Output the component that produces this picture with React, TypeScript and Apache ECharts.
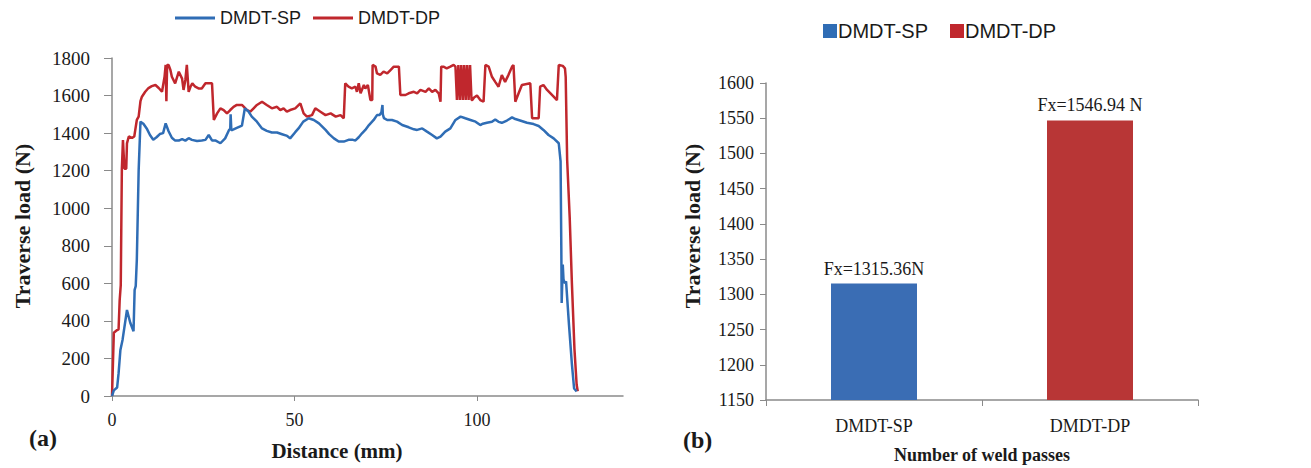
import React, { useEffect, useRef } from 'react';
import * as echarts from 'echarts';

const seriesNames = ['DMDT-SP', 'DMDT-DP'];

const spDistance = [0, 0.5, 1.4, 1.8, 2.3, 2.9, 4.1, 5.0, 5.9, 6.2, 6.5, 6.8, 7.3, 7.8, 8.6, 9.5, 10.4, 11.3, 12.2, 13.1, 14.0, 14.7, 15.5, 16.4, 17.3, 18.3, 19.2, 20.1, 21.0, 21.9, 23.3, 24.6, 25.6, 26.5, 27.4, 28.3, 29.7, 31.0, 32.1, 32.4, 32.5, 32.7, 33.3, 34.2, 35.6, 36.4, 37.4, 38.3, 39.7, 41.1, 42.4, 43.8, 45.2, 46.6, 48.0, 48.8, 50.2, 51.1, 52.4, 53.9, 55.3, 56.7, 57.6, 58.5, 59.5, 60.8, 62.1, 63.5, 64.8, 66.0, 66.7, 67.6, 68.5, 69.4, 70.4, 71.7, 72.6, 73.3, 73.8, 74.1, 74.2, 74.5, 75.4, 76.7, 78.1, 79.5, 81.3, 82.7, 83.6, 85.0, 86.3, 87.7, 89.0, 90.0, 91.3, 92.7, 94.1, 95.5, 96.8, 98.2, 99.6, 100.9, 101.6, 102.7, 104.1, 105.0, 105.9, 106.8, 108.2, 109.6, 110.5, 111.8, 113.7, 115.5, 116.9, 118.2, 119.6, 121.0, 122.4, 122.9, 123.1, 123.2, 123.5, 123.7, 124.1, 124.4, 125.2, 126.0, 126.6, 127.3];
const spLoad = [0, 30, 45, 120, 245, 300, 458, 390, 345, 565, 585, 725, 1200, 1461, 1450, 1425, 1390, 1365, 1378, 1395, 1400, 1452, 1410, 1375, 1360, 1360, 1368, 1360, 1373, 1364, 1358, 1361, 1364, 1390, 1361, 1361, 1346, 1372, 1418, 1420, 1500, 1415, 1420, 1428, 1440, 1532, 1515, 1488, 1461, 1425, 1412, 1403, 1403, 1394, 1385, 1372, 1405, 1425, 1461, 1479, 1470, 1452, 1435, 1417, 1395, 1372, 1355, 1355, 1364, 1364, 1361, 1378, 1399, 1417, 1443, 1470, 1496, 1496, 1510, 1550, 1500, 1480, 1470, 1470, 1461, 1443, 1431, 1420, 1417, 1425, 1408, 1390, 1372, 1381, 1408, 1425, 1470, 1488, 1479, 1470, 1461, 1443, 1450, 1455, 1460, 1473, 1460, 1455, 1467, 1484, 1475, 1467, 1455, 1448, 1438, 1417, 1390, 1372, 1346, 1250, 790, 495, 700, 620, 600, 610, 380, 170, 40, 25];

const dpDistance = [0, 0.5, 1.4, 1.8, 2.1, 2.4, 2.7, 3.0, 3.4, 3.9, 4.1, 4.6, 5.5, 6.1, 6.4, 6.8, 7.3, 7.8, 8.2, 9.1, 10.0, 10.9, 11.9, 12.8, 13.7, 14.4, 14.7, 14.9, 15.1, 15.5, 16.0, 16.4, 17.3, 18.3, 19.2, 19.6, 20.1, 20.5, 21.0, 21.5, 22.0, 22.8, 23.7, 24.6, 25.6, 26.5, 27.4, 27.9, 28.8, 29.7, 30.6, 31.5, 32.4, 33.3, 34.2, 35.6, 37.0, 37.9, 38.8, 39.7, 41.1, 42.4, 43.8, 45.2, 46.1, 47.0, 47.9, 48.8, 50.2, 51.6, 52.5, 53.4, 54.8, 55.7, 57.1, 58.5, 59.9, 61.3, 62.6, 63.5, 63.9, 64.8, 65.7, 66.7, 67.1, 67.6, 68.1, 69.0, 69.4, 70.1, 70.8, 71.3, 71.4, 72.2, 72.6, 73.5, 74.4, 75.4, 76.3, 77.2, 78.1, 78.6, 79.0, 80.4, 81.3, 82.7, 83.6, 84.5, 85.9, 86.8, 87.7, 88.6, 89.5, 90.0, 90.2, 90.8, 91.7, 92.7, 93.6, 94.1, 94.5, 94.9, 95.3, 95.7, 96.1, 96.5, 96.9, 97.3, 97.7, 98.1, 98.5, 98.7, 99.2, 100.0, 100.9, 101.8, 102.3, 103.2, 104.1, 105.0, 105.9, 106.8, 107.7, 108.6, 109.6, 110.0, 110.5, 111.4, 112.3, 114.6, 115.1, 116.9, 117.3, 118.2, 119.2, 121.0, 121.9, 122.4, 123.5, 124.1, 124.3, 124.7, 125.4, 126.0, 126.7, 127.3, 127.6];
const dpLoad = [0, 337, 351, 355, 510, 590, 1210, 1363, 1210, 1210, 1345, 1382, 1375, 1382, 1420, 1470, 1488, 1570, 1594, 1620, 1640, 1650, 1656, 1640, 1620, 1700, 1763, 1570, 1763, 1763, 1736, 1700, 1665, 1727, 1690, 1630, 1683, 1763, 1620, 1647, 1665, 1647, 1638, 1638, 1665, 1665, 1665, 1470, 1505, 1532, 1523, 1505, 1523, 1540, 1550, 1550, 1523, 1514, 1532, 1550, 1567, 1550, 1532, 1540, 1523, 1532, 1514, 1523, 1532, 1558, 1505, 1488, 1496, 1532, 1514, 1496, 1505, 1488, 1496, 1479, 1665, 1647, 1638, 1647, 1620, 1665, 1612, 1656, 1638, 1656, 1576, 1576, 1763, 1754, 1718, 1710, 1727, 1718, 1736, 1754, 1754, 1754, 1603, 1603, 1612, 1620, 1612, 1630, 1620, 1638, 1620, 1630, 1612, 1567, 1754, 1754, 1745, 1754, 1763, 1754, 1576, 1763, 1576, 1763, 1576, 1763, 1576, 1763, 1576, 1763, 1576, 1576, 1590, 1600, 1576, 1567, 1763, 1754, 1700, 1673, 1647, 1709, 1673, 1709, 1754, 1763, 1567, 1612, 1656, 1665, 1479, 1479, 1647, 1656, 1630, 1594, 1576, 1763, 1758, 1745, 1700, 1257, 950, 600, 250, 60, 25];

const distanceTicks = [0, 50, 100];
const barCategories = ['DMDT-SP', 'DMDT-DP'];
const barValues = [1315.36, 1546.94];
const barLabels = ['Fx=1315.36N', 'Fx=1546.94 N'];

const BLUE = '#2f6db5';
const RED = '#c0272d';
const BAR_BLUE = '#3a6db4';
const BAR_RED = '#b83636';
const AXIS = '#8a8a8a';
const TEXT = '#1a1a1a';
const SERIF = '"Liberation Serif", "Times New Roman", serif';
const SANS = '"Liberation Sans", Arial, sans-serif';

export default function App() {
  const ref = useRef<HTMLDivElement>(null);
  useEffect(() => {
    if (!ref.current) return;
    const chart = echarts.init(ref.current, undefined, { renderer: 'svg' });
    const plain = (v: number) => String(v);
    const labelStyle = { fontFamily: SERIF, fontSize: 18, color: TEXT };
    const title = (text: string, x: number, y: number, size: number, rotate: boolean) => ({
      type: 'text',
      x,
      y,
      rotation: rotate ? Math.PI / 2 : 0,
      style: {
        text,
        fontFamily: SERIF,
        fontSize: size,
        fontWeight: 'bold',
        fill: TEXT,
        align: 'center',
        verticalAlign: 'middle',
      },
    });
    chart.setOption({
      animation: false,
      backgroundColor: '#ffffff',
      legend: [
        {
          data: seriesNames,
          left: 170,
          top: 4,
          icon: 'rect',
          itemWidth: 40,
          itemHeight: 3,
          itemGap: 12,
          textStyle: { fontFamily: SANS, fontSize: 18, color: TEXT },
        },
        {
          data: seriesNames,
          left: 818,
          top: 16,
          icon: 'rect',
          itemWidth: 14,
          itemHeight: 14,
          itemGap: 22,
          textStyle: { fontFamily: SANS, fontSize: 20, color: TEXT, padding: [0, 0, 0, -4] },
        },
      ],
      grid: [
        { left: 112, top: 58, width: 511, height: 338 },
        { left: 766, top: 83, width: 432, height: 317 },
      ],
      xAxis: [
        {
          type: 'value',
          gridIndex: 0,
          min: 0,
          max: 140,
          interval: 50,
          axisLine: { show: true, lineStyle: { color: AXIS, width: 1.5 } },
          axisTick: { show: true, length: 5, customValues: distanceTicks, lineStyle: { color: AXIS } },
          axisLabel: { ...labelStyle, margin: 15, customValues: distanceTicks, formatter: plain },
          splitLine: { show: false },
        },
        {
          type: 'category',
          gridIndex: 1,
          data: barCategories,
          axisLine: { show: true, lineStyle: { color: AXIS, width: 1.5 } },
          axisTick: { show: true, length: 6, lineStyle: { color: AXIS } },
          axisLabel: { ...labelStyle, margin: 17 },
        },
      ],
      yAxis: [
        {
          type: 'value',
          gridIndex: 0,
          min: 0,
          max: 1800,
          interval: 200,
          axisLine: { show: true, lineStyle: { color: AXIS, width: 1.5 } },
          axisTick: { show: true, length: 8, lineStyle: { color: AXIS } },
          axisLabel: { ...labelStyle, fontSize: 19, margin: 22, formatter: plain },
          splitLine: { show: false },
        },
        {
          type: 'value',
          gridIndex: 1,
          min: 1150,
          max: 1600,
          interval: 50,
          axisLine: { show: true, lineStyle: { color: AXIS, width: 1.5 } },
          axisTick: { show: true, length: 6, lineStyle: { color: AXIS } },
          axisLabel: { ...labelStyle, margin: 12, formatter: plain },
          splitLine: { show: false },
        },
      ],
      series: [
        {
          name: seriesNames[0],
          type: 'line',
          xAxisIndex: 0,
          yAxisIndex: 0,
          data: spDistance.map((d, i) => [d, spLoad[i]]),
          showSymbol: false,
          symbol: 'none',
          color: BLUE,
          lineStyle: { color: BLUE, width: 2.5 },
          z: 3,
        },
        {
          name: seriesNames[1],
          type: 'line',
          xAxisIndex: 0,
          yAxisIndex: 0,
          data: dpDistance.map((d, i) => [d, dpLoad[i]]),
          showSymbol: false,
          symbol: 'none',
          color: RED,
          lineStyle: { color: RED, width: 2.5 },
          z: 2,
        },
        {
          name: seriesNames[0],
          type: 'bar',
          xAxisIndex: 1,
          yAxisIndex: 1,
          data: [barValues[0], '-'],
          barWidth: 86,
          barGap: '-100%',
          itemStyle: { color: BAR_BLUE },
          label: {
            show: true,
            position: 'top',
            distance: 6,
            formatter: () => barLabels[0],
            fontFamily: SERIF,
            fontSize: 18,
            color: TEXT,
          },
        },
        {
          name: seriesNames[1],
          type: 'bar',
          xAxisIndex: 1,
          yAxisIndex: 1,
          data: ['-', barValues[1]],
          barWidth: 86,
          barGap: '-100%',
          itemStyle: { color: BAR_RED },
          label: {
            show: true,
            position: 'top',
            distance: 6,
            formatter: () => barLabels[1],
            fontFamily: SERIF,
            fontSize: 18,
            color: TEXT,
          },
        },
      ],
      graphic: [
        title('Traverse load (N)', 22, 226, 22, true),
        title('Distance (mm)', 337, 451, 21, false),
        title('Traverse load (N)', 692, 226, 22, true),
        title('Number of weld passes', 982, 455, 18, false),
        {
          type: 'text',
          left: 29,
          top: 426,
          style: { text: '(a)', fontFamily: SERIF, fontSize: 24, fontWeight: 'bold', fill: TEXT },
        },
        {
          type: 'text',
          left: 683,
          top: 428,
          style: { text: '(b)', fontFamily: SERIF, fontSize: 24, fontWeight: 'bold', fill: TEXT },
        },
      ],
    });
    return () => chart.dispose();
  }, []);
  return (
    <div
      ref={ref}
      style={{ position: 'absolute', left: 0, top: 0, width: 1311, height: 468 }}
    />
  );
}
